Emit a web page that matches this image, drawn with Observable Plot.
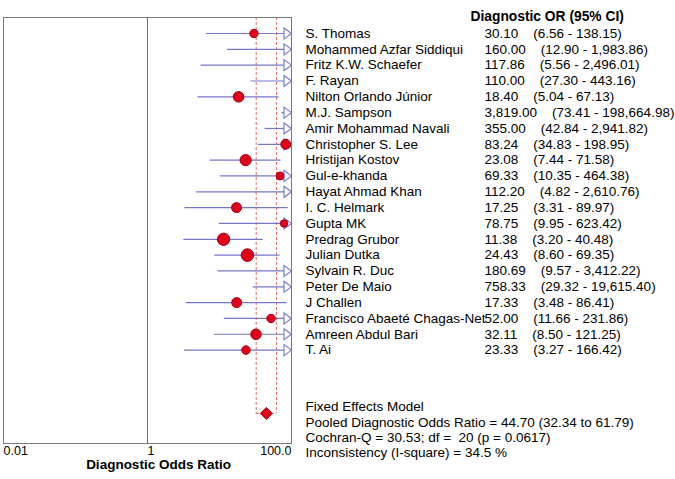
<!DOCTYPE html>
<html><head><meta charset="utf-8">
<script src="https://cdn.jsdelivr.net/npm/d3@7"></script>
<script src="https://cdn.jsdelivr.net/npm/@observablehq/plot@0.6"></script>
<style>
  html,body{margin:0;padding:0;background:#fff}
  #chart svg{font-family:"Liberation Sans",Arial,sans-serif;color:#000}
</style>
</head><body><div id="chart"></div>
<script>
// ---- data ----
const studies = [
  "S. Thomas", "Mohammed Azfar Siddiqui", "Fritz K.W. Schaefer", "F. Rayan",
  "Nilton Orlando Júnior", "M.J. Sampson", "Amir Mohammad Navali", "Christopher S. Lee",
  "Hristijan Kostov", "Gul-e-khanda", "Hayat Ahmad Khan", "I. C. Helmark", "Gupta MK",
  "Predrag Grubor", "Julian Dutka", "Sylvain R. Duc", "Peter De Maio", "J Challen",
  "Francisco Abaeté Chagas-Net", "Amreen Abdul Bari", "T. Ai"
];
const oddsRatio = [30.10, 160.00, 117.86, 110.00, 18.40, 3819.00, 355.00, 83.24, 23.08, 69.33,
  112.20, 17.25, 78.75, 11.38, 24.43, 180.69, 758.33, 17.33, 52.00, 32.11, 23.33];
const ciLower = [6.56, 12.90, 5.56, 27.30, 5.04, 73.41, 42.84, 34.83, 7.44, 10.35,
  4.82, 3.31, 9.95, 3.20, 8.60, 9.57, 29.32, 3.48, 11.66, 8.50, 3.27];
const ciUpper = [138.15, 1983.86, 2496.01, 443.16, 67.13, 198664.98, 2941.82, 198.95, 71.58, 464.38,
  2610.76, 89.97, 623.42, 40.48, 69.35, 3412.22, 19615.40, 86.41, 231.86, 121.25, 166.42];
// relative study weights (marker area)
const weight = [18, 10, 10, 20, 28, 8, 12, 25, 32, 16,
  10, 25, 14, 38, 40, 10, 9, 25, 18, 28, 18];

const pooledOR = 44.70, pooledLower = 32.34, pooledUpper = 61.79;
const cochranQ = 30.53, dfQ = 20, pValue = 0.0617, iSquare = 34.5;

const tickValues = [0.01, 1, 100];
const tickLabels = ["0.01", "1", "100.0"];
const header = "Diagnostic OR (95% CI)";
const axisTitle = "Diagnostic Odds Ratio";
const footerLines = [
  "Fixed Effects Model",
  `Pooled Diagnostic Odds Ratio = ${pooledOR.toFixed(2)} (${pooledLower.toFixed(2)} to ${pooledUpper.toFixed(2)})`,
  `Cochran-Q = ${cochranQ.toFixed(2)}; df =  ${dfQ} (p = ${pValue})`,
  `Inconsistency (I-square) = ${iSquare} %`
];

// ---- build ----
const xMin = 0.01, xMax = 100;
const fmt = d3.format(",.2f");
const sp = "\u00a0\u00a0\u00a0\u00a0";
const rows = studies.map((name, i) => ({
  i, name, or: oddsRatio[i], lo: ciLower[i], hi: ciUpper[i], w: weight[i],
  label: `${fmt(oddsRatio[i])}${sp}(${fmt(ciLower[i])} - ${fmt(ciUpper[i])})`
}));
const pooledRow = studies.length + 3;
const yTop = -1.01, yBottom = 25.9;

const lineColor = "#7676cc";
const dotFill = "#e3001b";
const dotStroke = "#9a0012";
const dashColor = "#e46a6a";

const rightTriangle = {
  draw(ctx) {
    ctx.moveTo(-7.5, -5.5);
    ctx.lineTo(0, 0);
    ctx.lineTo(-7.5, 5.5);
    ctx.closePath();
  }
};

const ticks = tickValues.map((v, k) => ({v, label: tickLabels[k]}));

const chart = Plot.plot({
  width: 675,
  height: 479,
  marginLeft: 3,
  marginRight: 384,
  marginTop: 17,
  marginBottom: 36,
  x: {type: "log", domain: [xMin, xMax], axis: null},
  y: {domain: [yTop, yBottom], reverse: true, axis: null},
  r: {domain: [0, 40], range: [0, 6.3]},
  marks: [
    Plot.ruleX([1], {stroke: "#6e6e6e", strokeWidth: 1}),
    Plot.ruleX([pooledLower, pooledUpper], {y1: () => yTop, y2: () => pooledRow,
      stroke: dashColor, strokeDasharray: "3,2", strokeWidth: 1}),
    Plot.ruleY([pooledRow], {x1: () => pooledLower, x2: () => pooledUpper,
      stroke: dashColor, strokeDasharray: "3,2", strokeWidth: 1}),
    Plot.ruleY(rows, {y: "i", x1: "lo", x2: d => Math.min(d.hi, xMax), stroke: lineColor, strokeWidth: 1.2}),
    Plot.dot(rows.filter(d => d.hi > xMax), {x: () => xMax, y: "i", symbol: rightTriangle,
      fill: "white", stroke: lineColor, strokeWidth: 1.1}),
    Plot.dot(rows.filter(d => d.or <= xMax), {x: "or", y: "i", r: "w", fill: dotFill, stroke: dotStroke, strokeWidth: 1}),
    Plot.dot([pooledOR], {x: d => d, y: () => pooledRow, symbol: "diamond2", r: 5.4,
      fill: dotFill, stroke: dotStroke, strokeWidth: 1}),
    Plot.frame({stroke: "#7a7a7a", strokeWidth: 1}),
    // table
    Plot.text([header], {frameAnchor: "top-right", dx: 179, dy: -6, textAnchor: "start",
      fontWeight: "bold", fontSize: 13.8}),
    Plot.text(rows, {y: "i", text: "name", frameAnchor: "right", dx: 14, textAnchor: "start", fontSize: 13.5}),
    Plot.text(rows, {y: "i", text: "label", frameAnchor: "right", dx: 193, textAnchor: "start", fontSize: 13.5}),
    Plot.text([footerLines.join("\n")], {frameAnchor: "bottom-right", dx: 14, dy: -14, textAnchor: "start",
      lineAnchor: "middle", lineHeight: 1.135, fontSize: 13.5}),
    // axis
    Plot.text(ticks.filter(t => t.v < xMax), {x: "v", text: "label", frameAnchor: "bottom", dy: 11,
      textAnchor: "start", fontSize: 12.5}),
    Plot.text(ticks.filter(t => t.v >= xMax), {x: "v", text: "label", frameAnchor: "bottom", dy: 11,
      textAnchor: "end", fontSize: 12.5}),
    Plot.text([axisTitle], {frameAnchor: "bottom", dx: 11, dy: 25, fontWeight: "bold", fontSize: 13.5})
  ]
});
document.getElementById("chart").appendChild(chart);
</script>
</body></html>
